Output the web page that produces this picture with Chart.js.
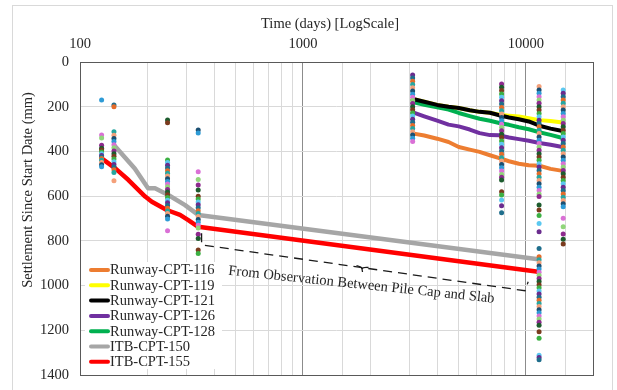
<!DOCTYPE html>
<html>
<head>
<meta charset="utf-8">
<script src="https://cdn.jsdelivr.net/npm/chart.js@4/dist/chart.umd.min.js"></script>
<style>
html, body { margin: 0; padding: 0; background: #fff; }
canvas { display: block; }
</style>
</head>
<body>
<canvas id="chart" width="617" height="390"></canvas>
<script>
// Runway lines: time (days) and settlement (mm)
const runwayDays = [3050, 3500, 4000, 4500, 5000, 5600, 6200, 6900, 7600, 8400, 9300, 10300, 11500, 12900, 14600];
const cpt116 = [318, 329, 343, 358, 380, 392, 402, 417, 430, 444, 455, 462, 464, 478, 487];
const cpt119 = [163, 178, 192, 200, 206, 216, 223, 227, 236, 240, 244, 252, 260, 264, 271];
const cpt121 = [163, 178, 192, 200, 206, 216, 223, 227, 238, 248, 256, 266, 285, 298, 309];
const cpt126 = [222, 243, 262, 280, 288, 302, 318, 327, 328, 338, 345, 352, 362, 370, 380];
const cpt128 = [177, 191, 203, 213, 228, 242, 254, 263, 273, 281, 292, 301, 314, 326, 340];

// ITB lines
const itb150Days = [142, 176, 202, 217, 249, 296, 339, 11350];
const itb150 = [371, 476, 565, 565, 595, 640, 684, 882];
const itb155Days = [125, 144, 165, 196, 210, 245, 281, 306, 339, 11350];
const itb155 = [431, 476, 528, 602, 625, 662, 684, 707, 737, 938];

// survey point columns (days) and readings (mm)
const obsDays = [125, 142, 247, 339, 3105, 7780, 11460, 14700];
const obs125 = [170, 327, 340, 372, 386, 394, 402, 410, 418, 425, 432, 440, 450, 460, 468];
const obs142 = [192, 200, 312, 328, 342, 356, 370, 384, 398, 410, 422, 434, 446, 458, 470, 482, 494, 531];
const obs247 = [259, 272, 438, 450, 462, 474, 486, 498, 510, 522, 534, 546, 558, 570, 582, 594, 606, 618, 630, 642, 654, 666, 678, 690, 702, 755];
const obs339 = [304, 318, 491, 525, 550, 572, 600, 613, 626, 639, 652, 665, 678, 691, 704, 717, 730, 743, 770, 790, 841, 856];
const obs3105 = [58, 72, 86, 101, 115, 130, 144, 158, 172, 186, 200, 214, 228, 242, 256, 270, 284, 298, 312, 326, 341, 356];
const obs7780 = [98, 113, 128, 143, 158, 173, 188, 203, 218, 233, 248, 263, 278, 293, 308, 323, 338, 353, 368, 383, 398, 413, 428, 443, 458, 473, 488, 503, 516, 528, 580, 595, 617, 643, 674];
const obs11460 = [110, 125, 140, 155, 170, 185, 200, 215, 230, 245, 260, 275, 290, 305, 320, 335, 350, 365, 380, 395, 410, 425, 440, 455, 470, 485, 500, 515, 530, 545, 560, 575, 590, 602, 640, 662, 687, 722, 759, 834, 871, 885, 898, 912, 926, 940, 954, 968, 982, 996, 1010, 1024, 1038, 1052, 1066, 1080, 1094, 1108, 1122, 1136, 1150, 1164, 1178, 1206, 1236, 1312, 1322, 1332];
const obs14700 = [125, 140, 155, 170, 185, 200, 215, 230, 245, 260, 275, 290, 305, 320, 335, 350, 365, 380, 395, 410, 425, 440, 455, 470, 485, 500, 515, 530, 545, 560, 575, 590, 605, 620, 634, 647, 699, 737, 769, 793, 814];
const obsColumns = [obs125, obs142, obs247, obs339, obs3105, obs7780, obs11460, obs14700];

const xTitle = "Time (days) [LogScale]";
const yTitle = "Settlement Since Start Date (mm)";
const noteText = "From Observation Between Pile Cap and Slab";

const FONT = "'Liberation Serif', 'Times New Roman', serif";
const TEXT = "#262626";
const dotPalette = ["#2E9BD6", "#8E2A8E", "#3CB043", "#1F6E8C", "#F4A07A", "#DA70D6", "#1D5C2E",
  "#5BC8F0", "#E46C2A", "#1B4F72", "#90D67A", "#7A3B1E", "#6A2C8E", "#27A6A0"];

const pts = (xs, ys) => xs.map((x, i) => ({ x, y: ys[i] }));

const lineSets = [
  { label: "Runway-CPT-116", data: pts(runwayDays, cpt116), color: "#ED7D31", w: 4, order: 2 },
  { label: "Runway-CPT-119", data: pts(runwayDays, cpt119), color: "#FFFF00", w: 4, order: 3 },
  { label: "Runway-CPT-121", data: pts(runwayDays, cpt121), color: "#000000", w: 4, order: 1 },
  { label: "Runway-CPT-126", data: pts(runwayDays, cpt126), color: "#7030A0", w: 4, order: 2 },
  { label: "Runway-CPT-128", data: pts(runwayDays, cpt128), color: "#00B050", w: 4, order: 2 },
  { label: "ITB-CPT-150", data: pts(itb150Days, itb150), color: "#A6A6A6", w: 4.5, order: 2 },
  { label: "ITB-CPT-155", data: pts(itb155Days, itb155), color: "#FF0000", w: 4.5, order: 2 }
];

const datasets = lineSets.map(s => ({
  label: s.label,
  data: s.data,
  showLine: true,
  borderColor: s.color,
  backgroundColor: s.color,
  borderWidth: s.w,
  borderJoinStyle: "round",
  pointRadius: 0,
  tension: 0,
  order: s.order
}));

obsColumns.forEach((col, c) => {
  datasets.push({
    label: "obs-" + obsDays[c],
    data: col.map(v => ({ x: obsDays[c], y: v })),
    pointRadius: 2.5,
    pointBorderWidth: 0,
    pointBackgroundColor: col.map((_, i) => dotPalette[(i * 5 + c * 3) % dotPalette.length]),
    showLine: false,
    order: 0
  });
});

const isDecade = v => {
  const lg = Math.log10(v);
  return Math.abs(lg - Math.round(lg)) < 1e-6;
};

// 枠・タイトル・凡例・注記
const decor = {
  id: "decor",
  beforeDraw(chart) {
    const ctx = chart.ctx;
    ctx.save();
    ctx.fillStyle = "#fff";
    ctx.fillRect(0, 0, chart.width, chart.height);
    ctx.strokeStyle = "#d9d9d9";
    ctx.lineWidth = 1;
    ctx.strokeRect(12.5, 5.5, 600, 400);
    ctx.restore();
  },
  beforeDatasetsDraw(chart) {
    const { ctx, chartArea: a } = chart;
    ctx.save();
    ctx.strokeStyle = "#595959";
    ctx.lineWidth = 1;
    ctx.strokeRect(Math.round(a.left) + 0.5, Math.round(a.top) + 0.5,
      Math.round(a.right - a.left), Math.round(a.bottom - a.top));
    ctx.restore();
  },
  afterDatasetsDraw(chart) {
    const { ctx, scales } = chart;
    const X = v => scales.x.getPixelForValue(v);
    const Y = v => scales.y.getPixelForValue(v);
    ctx.save();

    // dashed bracket
    const bx = [351, 351, 9910, 10240];
    const by = [766, 818, 1023, 983];
    ctx.strokeStyle = "#1a1a1a";
    ctx.lineWidth = 1.3;
    ctx.setLineDash([9, 6]);
    ctx.beginPath();
    bx.forEach((d, i) => i ? ctx.lineTo(X(d), Y(by[i])) : ctx.moveTo(X(d), Y(by[i])));
    ctx.stroke();
    ctx.setLineDash([]);
    // small brace mark in the middle
    const mx = X(1850), my = Y(917);
    ctx.beginPath();
    ctx.moveTo(mx - 6, my - 1.5);
    ctx.quadraticCurveTo(mx - 1, my - 0.5, mx - 0.5, my + 2);
    ctx.lineTo(mx, my + 5);
    ctx.moveTo(mx - 0.5, my + 2);
    ctx.quadraticCurveTo(mx, my, mx + 6, my + 0.5);
    ctx.stroke();

    // note text
    ctx.fillStyle = TEXT;
    ctx.font = "14.5px " + FONT;
    ctx.textAlign = "center";
    ctx.textBaseline = "middle";
    ctx.translate(X(1830), Y(997));
    ctx.rotate(6 * Math.PI / 180);
    ctx.fillText(noteText, 0, 0);
    ctx.restore();

    // legend
    ctx.save();
    ctx.fillStyle = "#fff";
    ctx.fillRect(85, 262, 137, 107);
    ctx.font = "14.5px " + FONT;
    ctx.textAlign = "left";
    ctx.textBaseline = "middle";
    ctx.lineCap = "round";
    lineSets.forEach((s, i) => {
      const y = 270 + i * 15.3;
      ctx.strokeStyle = s.color;
      ctx.lineWidth = 4;
      ctx.beginPath();
      ctx.moveTo(91, y);
      ctx.lineTo(108, y);
      ctx.stroke();
      ctx.fillStyle = TEXT;
      ctx.fillText(s.label, 110, y + 0.5);
    });
    ctx.restore();
  },
  afterDraw(chart) {
    const ctx = chart.ctx;
    ctx.save();
    ctx.fillStyle = TEXT;
    ctx.font = "14.5px " + FONT;
    ctx.textAlign = "center";
    ctx.textBaseline = "middle";
    ctx.fillText(xTitle, 330, 24);
    ctx.translate(28, 190);
    ctx.rotate(-Math.PI / 2);
    ctx.fillText(yTitle, 0, 0);
    ctx.restore();
  }
};

new Chart(document.getElementById("chart"), {
  type: "scatter",
  data: { datasets },
  options: {
    responsive: false,
    animation: false,
    devicePixelRatio: 1,
    layout: { padding: { left: 12, right: 24, top: 5, bottom: 15 } },
    plugins: { legend: { display: false }, tooltip: { enabled: false } },
    scales: {
      x: {
        type: "logarithmic",
        position: "top",
        min: 100,
        max: 20000,
        afterFit: s => { s.height = 57; },
        border: { display: false },
        grid: {
          drawTicks: false,
          color: c => (c.tick && isDecade(c.tick.value) ? "#8c8c8c" : "#d9d9d9")
        },
        ticks: {
          autoSkip: false,
          maxRotation: 0,
          padding: 9,
          color: TEXT,
          font: { family: FONT, size: 14.5 },
          callback: v => (isDecade(v) ? String(Math.round(v)) : "")
        }
      },
      y: {
        min: 0,
        max: 1400,
        reverse: true,
        afterFit: s => { s.width = 68; },
        border: { display: false },
        grid: { drawTicks: true, tickLength: 8, tickColor: "rgba(0,0,0,0)", color: "#d9d9d9" },
        ticks: {
          stepSize: 200,
          padding: 3,
          color: TEXT,
          font: { family: FONT, size: 14.5 },
          callback: v => String(v)
        }
      }
    }
  },
  plugins: [decor]
});
</script>
</body>
</html>
